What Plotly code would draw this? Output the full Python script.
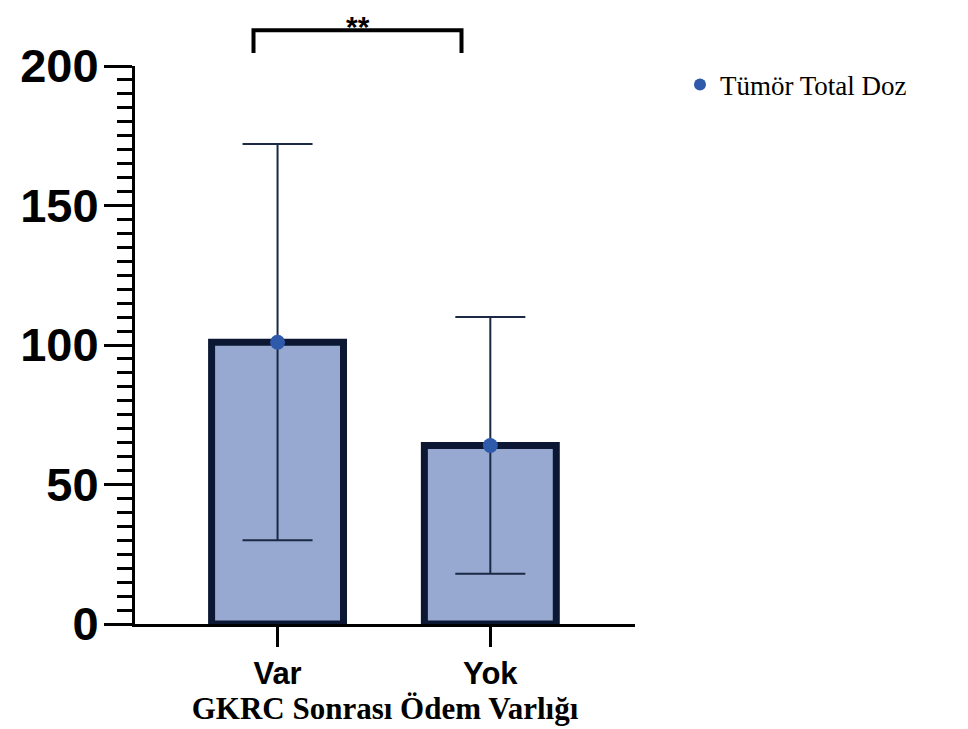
import plotly.graph_objects as go

categories = ["Var", "Yok"]
means = [101, 64]
sds = [71, 46]
series_name = "Tümör Total Doz"
x_title = "GKRC Sonrası Ödem Varlığı"
y_ticks = [0, 50, 100, 150, 200]
sig_label = "**"

navy = "#0b1733"
fill = "#97a9d1"
dot = "#2f5aab"

fig = go.Figure()
fig.add_trace(go.Bar(
    x=categories, y=means, width=0.62,
    marker=dict(color=fill, line=dict(color=navy, width=7)),
    showlegend=False, hoverinfo="skip",
))
fig.add_trace(go.Scatter(
    x=categories, y=means, mode="markers", name=series_name,
    marker=dict(color=dot, size=15, symbol="circle"),
    error_y=dict(type="data", array=sds, symmetric=True, color="#1b2944",
                 thickness=2, width=35),
))

# significance bracket
fig.add_shape(type="path", xref="paper", yref="paper",
              path="M 0.237 1.0235 L 0.237 1.0640 L 0.653 1.0640 L 0.653 1.0235",
              line=dict(color="black", width=4))
fig.add_annotation(text=sig_label, xref="paper", yref="paper", x=0.446, y=1.1022,
                   yanchor="top", showarrow=False, borderpad=0,
                   font=dict(family="Liberation Sans", size=30, color="black", weight="bold"))

fig.update_layout(
    width=960, height=721,
    margin=dict(l=125, r=333, t=58, b=99, pad=0),
    plot_bgcolor="white", paper_bgcolor="white",
    showlegend=True,
    legend=dict(x=1.09, y=0.966, xanchor="left", yanchor="middle",
                font=dict(family="Liberation Serif", size=27, color="black"),
                bgcolor="rgba(0,0,0,0)", itemsizing="constant"),
    xaxis=dict(
        type="category", range=[-0.67, 1.68],
        showline=True, linecolor="black", linewidth=3,
        ticks="outside", ticklen=20, tickwidth=3, tickcolor="black",
        tickfont=dict(family="Liberation Sans", size=31, color="black", weight="bold"),
        title=dict(text=x_title, standoff=4,
                   font=dict(family="Liberation Serif", size=31, color="black", weight="bold")),
        showgrid=False, zeroline=False,
    ),
    yaxis=dict(
        range=[0, 200], tickvals=y_ticks,
        showline=True, linecolor="black", linewidth=3,
        ticks="outside", ticklen=28, tickwidth=3, tickcolor="black",
        ticklabelstandoff=-4,
        minor=dict(dtick=5, ticks="outside", ticklen=15, tickwidth=3, tickcolor="black", showgrid=False),
        tickfont=dict(family="Liberation Sans", size=47, color="black", weight="bold"),
        showgrid=False, zeroline=False,
    ),
)

fig.write_html("out.html")
